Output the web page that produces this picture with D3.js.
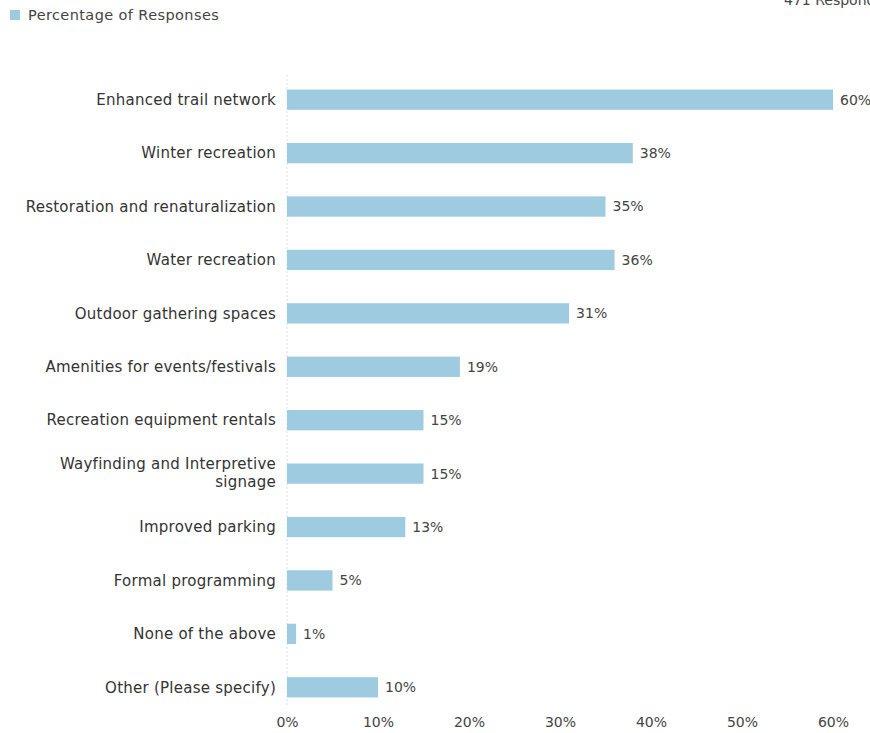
<!DOCTYPE html>
<html><head><meta charset="utf-8">
<script src="https://cdn.jsdelivr.net/npm/d3@7"></script>
<style>body{margin:0;background:#fff;}svg{display:block;font-family:"DejaVu Sans",Verdana,sans-serif;}</style>
</head><body><svg id="c" width="870" height="733"></svg>
<script>
const categories = ["Enhanced trail network","Winter recreation","Restoration and renaturalization","Water recreation","Outdoor gathering spaces","Amenities for events/festivals","Recreation equipment rentals","Wayfinding and Interpretive signage","Improved parking","Formal programming","None of the above","Other (Please specify)"];
const values = [60,38,35,36,31,19,15,15,13,5,1,10];
const tickValues = [0,10,20,30,40,50,60];
const seriesName = "Percentage of Responses";
const respondents = "471 Respondents";

const svg = d3.select("#c");
const color = "#9fcbe1";
const x = d3.scaleLinear().domain([0,60]).range([287,833]);
const y = d3.scaleBand().domain(categories).range([73,714]).paddingInner(0.62).paddingOuter(0.31);

// zero line
svg.append("line").attr("x1",x(0)).attr("x2",x(0)).attr("y1",75).attr("y2",705)
  .attr("stroke","#ddd").attr("stroke-dasharray","2,2");

svg.append("g").selectAll("rect").data(values).join("rect")
  .attr("x",x(0)).attr("y",(d,i)=>y(categories[i])).attr("width",d=>x(d)-x(0)).attr("height",y.bandwidth())
  .attr("fill",color);

svg.append("g").selectAll("text").data(values).join("text")
  .attr("x",d=>x(d)+7).attr("y",(d,i)=>y(categories[i])+y.bandwidth()/2).attr("dy","0.35em")
  .attr("font-size",14).attr("fill","#444").text(d=>d+"%");

const lab = svg.append("g").selectAll("text").data(categories).join("text")
  .attr("x",276).attr("y",d=>y(d)+y.bandwidth()/2).attr("text-anchor","end")
  .attr("font-size",15).attr("letter-spacing","0.25px").attr("fill","#333");
lab.each(function(d){
  const t=d3.select(this);
  if(d==="Wayfinding and Interpretive signage"){
    t.append("tspan").attr("x",276).attr("dy","-0.3em").text("Wayfinding and Interpretive");
    t.append("tspan").attr("x",276).attr("dy","1.2em").text("signage");
  } else t.attr("dy","0.35em").text(d);
});

const ax = d3.axisBottom(x).tickValues(tickValues).tickFormat(d=>d+"%").tickSize(0).tickPadding(0);
const g = svg.append("g").attr("transform","translate(0,722)").call(ax);
g.select(".domain").remove();
g.selectAll("text").attr("font-size",14).attr("fill","#444").attr("dy","0.35em").attr("font-family","DejaVu Sans, Verdana, sans-serif");

// legend
svg.append("rect").attr("x",10).attr("y",10).attr("width",10).attr("height",10).attr("fill",color);
svg.append("text").attr("x",28).attr("y",15).attr("dy","0.35em").attr("font-size",14.5).attr("letter-spacing","0.4px").attr("fill","#444").text(seriesName);
svg.append("text").attr("x",784).attr("y",5).attr("font-size",14).attr("fill","#444").text(respondents);
</script></body></html>
